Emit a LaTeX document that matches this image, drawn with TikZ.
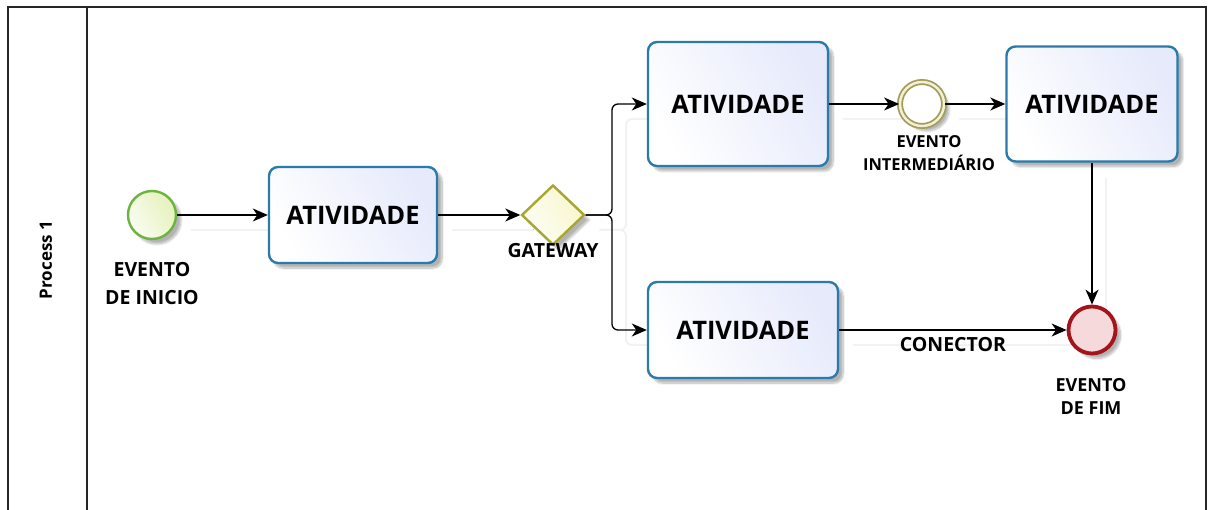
\documentclass[tikz,border=0pt]{standalone}
\usepackage{fontspec}
\setmainfont{Open Sans}
\usetikzlibrary{arrows.meta,shapes.geometric,shadows.blur}

\definecolor{taskborder}{HTML}{2A7AAB}
\definecolor{taskfill}{HTML}{E6EAFB}
\definecolor{startborder}{HTML}{6DB33F}
\definecolor{startfill}{HTML}{E4F2BC}
\definecolor{gwborder}{HTML}{A6A82E}
\definecolor{gwfill}{HTML}{F8F6CC}
\definecolor{midborder}{HTML}{A39D5C}
\definecolor{midring}{HTML}{F4F0D6}
\definecolor{endborder}{HTML}{A3141C}
\definecolor{endfill}{HTML}{EFB9BC}

\pgfdeclarelayer{background}
\pgfsetlayers{background,main}

\tikzset{
  softshadow/.style={blur shadow={shadow xshift=5pt, shadow yshift=-5pt,
      shadow blur steps=10, shadow opacity=30}},
  taskbox/.style={rectangle, rounded corners=9pt, draw=taskborder, line width=2.4pt,
      left color=white, right color=taskfill, shading angle=120,
      softshadow, inner sep=0pt,
      font=\bfseries\fontsize{25.5}{30}\selectfont},
  startev/.style={circle, draw=startborder, line width=2.4pt, minimum size=48pt,
      inner sep=0pt, left color=white!80!startfill, right color=startfill,
      shading angle=120, softshadow},
  gatewayev/.style={diamond, draw=gwborder, line width=2.4pt, minimum width=63pt,
      minimum height=60pt, inner sep=0pt, left color=white!85!gwfill,
      right color=gwfill, shading angle=120, softshadow},
  midev/.style={circle, draw=midborder, line width=1.8pt, double=midring,
      double distance=2.4pt, minimum size=44pt, inner sep=0pt, fill=white,
      softshadow},
  endev/.style={circle, draw=endborder, line width=3.8pt, minimum size=47pt,
      inner sep=0pt, fill=endfill!55, softshadow},
  evlabel/.style={align=center, inner sep=0pt,
      font=\bfseries\fontsize{19.5}{28}\selectfont},
  flow/.style={draw=black, line width=1.3pt,
      -{Stealth[length=15pt, width=13pt, inset=4.5pt]}},
  flowshadow/.style={draw=black!5, line width=2pt,
      transform canvas={shift={(14pt,-15pt)}}},
  lane/.style={draw=black!85, line width=1.4pt}
}

\begin{document}
\begin{tikzpicture}[x=1pt, y=-1pt]
  \useasboundingbox (0,0) rectangle (1208,510);

  % pool with its single lane header
  \draw[lane] (8,512) -- (8,7) -- (1206,7) -- (1206,512);
  \draw[lane] (87,7) -- (87,512);
  \node[rotate=90, inner sep=0pt, font=\bfseries\fontsize{17}{20}\selectfont]
    (lanename) at (46,260) {Process 1};

  % flow elements
  \node[startev] (start) at (152,215) {};
  \node[taskbox, minimum width=168pt, minimum height=96pt] (t1) at (353,215) {ATIVIDADE};
  \node[gatewayev] (gw) at (553,215) {};
  \node[taskbox, minimum width=180pt, minimum height=124pt] (t2) at (738,104) {ATIVIDADE};
  \node[taskbox, minimum width=190pt, minimum height=96pt] (t3) at (743,330) {ATIVIDADE};
  \node[midev] (mid) at (922,104) {};
  \node[taskbox, minimum width=171pt, minimum height=115pt] (t4) at (1092,104) {ATIVIDADE};
  \node[endev] (fim) at (1092,330) {};

  % labels
  \node[evlabel] (startlbl) at (152,284) {EVENTO\\DE INICIO};
  \node[evlabel, font=\bfseries\fontsize{19.5}{24}\selectfont] (gwlbl) at (553,251) {GATEWAY};
  \node[evlabel, font=\bfseries\fontsize{16.5}{23}\selectfont] (midlbl) at (929,153) {EVENTO\\INTERMEDIÁRIO};
  \node[evlabel, font=\bfseries\fontsize{18}{23}\selectfont] (fimlbl) at (1091,396) {EVENTO\\DE FIM};

  % sequence flows
  \coordinate (split) at (612,215);
  \draw[flow] (start) -- (t1);
  \draw[flow] (t1) -- (gw);
  \draw[flow, rounded corners=6pt] (gw.east) -- (split) |- (t2.west);
  \draw[flow, rounded corners=6pt] (gw.east) -- (split) |- (t3.west);
  \draw[flow] (t2) -- (mid);
  \draw[flow] (mid) -- (t4);
  \draw[flow] (t4) -- (fim);
  \draw[flow] (t3) -- node[below=7pt, inner sep=0pt,
      font=\bfseries\fontsize{19.5}{24}\selectfont] (conlbl) {CONECTOR} (fim);

  % faint drop shadows of the sequence flows
  \begin{pgfonlayer}{background}
    \draw[flowshadow] (start) -- (t1);
    \draw[flowshadow] (t1) -- (gw);
    \draw[flowshadow, rounded corners=6pt] (gw.east) -- (split) |- (t2.west);
    \draw[flowshadow, rounded corners=6pt] (gw.east) -- (split) |- (t3.west);
    \draw[flowshadow] (t2) -- (mid);
    \draw[flowshadow] (mid) -- (t4);
    \draw[flowshadow] (t4) -- (fim);
    \draw[flowshadow] (t3) -- (fim);
  \end{pgfonlayer}
\end{tikzpicture}
\end{document}
